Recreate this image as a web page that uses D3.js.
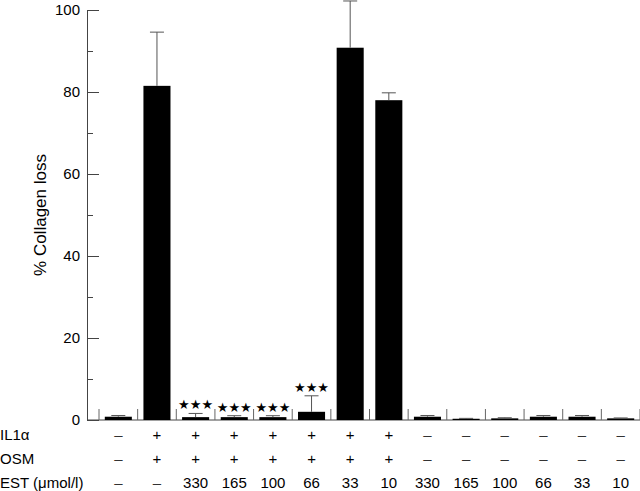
<!DOCTYPE html>
<html>
<head>
<meta charset="utf-8">
<script src="https://cdn.jsdelivr.net/npm/d3@7"></script>
<style>
  body { margin: 0; background: #fff; }
  svg { display: block; font-family: "Liberation Sans", Arial, Helvetica, sans-serif; }
</style>
</head>
<body>
<div id="chart"></div>
<script>
// values
var groups = d3.range(1, 15);
var collagen = [0.8, 81.5, 0.7, 0.7, 0.7, 2.0, 90.8, 78.0, 0.8, 0.3, 0.4, 0.8, 0.8, 0.4];
var sem = [0.3, 13.1, 0.9, 0.35, 0.35, 3.9, 11.4, 1.8, 0.3, 0.1, 0.15, 0.3, 0.3, 0.1];
var signif = [false, false, true, true, true, true, false, false, false, false, false, false, false, false];
var il1Row = ['–', '+', '+', '+', '+', '+', '+', '+', '–', '–', '–', '–', '–', '–'];
var osmRow = ['–', '+', '+', '+', '+', '+', '+', '+', '–', '–', '–', '–', '–', '–'];
var estRow = ['–', '–', '330', '165', '100', '66', '33', '10', '330', '165', '100', '66', '33', '10'];
var majorTicks = [0, 20, 40, 60, 80, 100];
var minorTicks = [10, 30, 50, 70, 90];

var W = 640, H = 491;
var axisX = 87;

var svg = d3.select('#chart').append('svg')
    .attr('width', W)
    .attr('height', H);

var y = d3.scaleLinear().domain([0, 100]).range([420, 10]);
var x = d3.scaleBand().domain(groups).range([99, 640]).paddingInner(0).paddingOuter(0);
var barW = x.bandwidth() * 0.7;

//Y軸 主刻度
var yAxis = svg.append('g')
    .attr('transform', `translate(${axisX},0)`)
    .call(d3.axisLeft(y).tickValues(majorTicks).tickSize(-12).tickSizeOuter(0).tickPadding(7));
yAxis.select('.domain').attr('stroke', '#444');
yAxis.selectAll('.tick line').attr('stroke', '#444');
yAxis.selectAll('.tick text')
    .attr('font-size', 15)
    .attr('fill', '#000')
    .style('font-family', '"Liberation Sans", Arial, sans-serif');

//Y軸 次刻度
var yMinor = svg.append('g')
    .attr('transform', `translate(${axisX},0)`)
    .call(d3.axisLeft(y).tickValues(minorTicks).tickSize(-6).tickFormat(''));
yMinor.select('.domain').remove();
yMinor.selectAll('.tick line').attr('stroke', '#444');

//X軸線
svg.append('line')
    .attr('x1', axisX).attr('x2', W)
    .attr('y1', y(0)).attr('y2', y(0))
    .attr('stroke', '#444');

//分隔刻度
var edges = groups.map(function (d) { return x(d); }).concat([x.range()[1]]);
svg.selectAll('line.sep')
    .data(edges)
    .enter()
    .append('line')
    .attr('class', 'sep')
    .attr('x1', d => d).attr('x2', d => d)
    .attr('y1', y(0) - 11).attr('y2', y(0))
    .attr('stroke', '#666');

//Y軸標題
svg.append('text')
    .attr('transform', 'translate(46,215) rotate(-90)')
    .attr('text-anchor', 'middle')
    .attr('font-size', 17)
    .text('% Collagen loss');

//畫矩形
svg.selectAll('rect.bar')
    .data(groups)
    .enter()
    .append('rect')
    .attr('class', 'bar')
    .attr('x', d => x(d) + (x.bandwidth() - barW) / 2)
    .attr('y', (d, i) => y(collagen[i]))
    .attr('width', barW)
    .attr('height', (d, i) => y(0) - y(collagen[i]))
    .attr('fill', '#000');

//誤差線
var err = svg.selectAll('g.err')
    .data(groups)
    .enter()
    .append('g')
    .attr('class', 'err')
    .attr('transform', d => `translate(${x(d) + x.bandwidth() / 2},0)`);
err.append('line')
    .attr('x1', 0).attr('x2', 0)
    .attr('y1', (d, i) => y(collagen[i]))
    .attr('y2', (d, i) => y(collagen[i] + sem[i]))
    .attr('stroke', '#555');
err.append('line')
    .attr('x1', -7).attr('x2', 7)
    .attr('y1', (d, i) => y(collagen[i] + sem[i]))
    .attr('y2', (d, i) => y(collagen[i] + sem[i]))
    .attr('stroke', '#555');

//星號
svg.selectAll('text.star')
    .data(groups.filter((d, i) => signif[i]))
    .enter()
    .append('text')
    .attr('class', 'star')
    .attr('x', d => x(d) + x.bandwidth() / 2)
    .attr('y', d => y(collagen[d - 1] + sem[d - 1]) - 4)
    .attr('text-anchor', 'middle')
    .attr('font-size', 13)
    .style('font-family', '"DejaVu Sans", sans-serif')
    .text('★★★');

//條件列
var rows = [
    { label: 'IL1α', vals: il1Row, cy: 435 },
    { label: 'OSM', vals: osmRow, cy: 459 },
    { label: 'EST (μmol/l)', vals: estRow, cy: 483 }
];
rows.forEach(function (r) {
    svg.append('text')
        .attr('x', 0)
        .attr('y', r.cy)
        .attr('dy', '0.36em')
        .attr('font-size', 15)
        .text(r.label);
    svg.selectAll(null)
        .data(groups)
        .enter()
        .append('text')
        .attr('x', d => x(d) + x.bandwidth() / 2)
        .attr('y', r.cy)
        .attr('dy', '0.36em')
        .attr('text-anchor', 'middle')
        .attr('font-size', 15)
        .attr('fill', (d, i) => r.vals[i] === '–' ? '#333' : '#000')
        .text((d, i) => r.vals[i]);
});
</script>
</body>
</html>
